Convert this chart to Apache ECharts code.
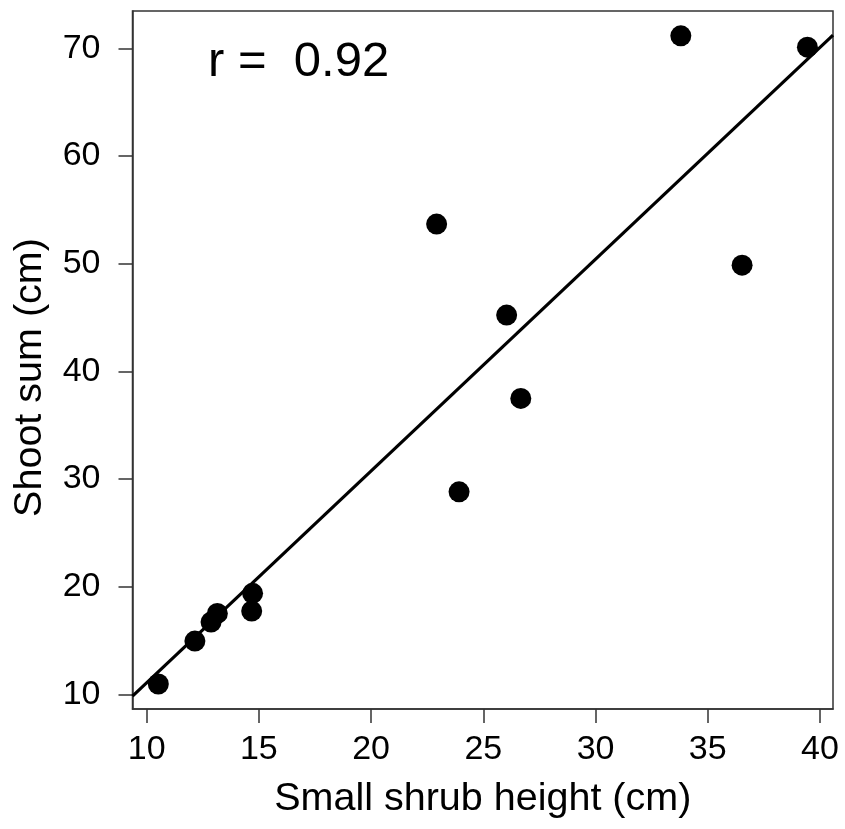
<!DOCTYPE html>
<html>
<head>
<meta charset="utf-8">
<script src="https://cdn.jsdelivr.net/npm/echarts@6/dist/echarts.min.js"></script>
<style>
html,body{margin:0;padding:0;background:#fff;}
#chart{width:845px;height:829px;}
</style>
</head>
<body>
<div id="chart"></div>
<script>
// Data
const shrubHeight = [10.52, 12.15, 12.87, 13.15, 14.72, 14.68, 22.92, 26.04, 26.67, 23.92, 33.80, 39.44, 36.53];
const shootSum    = [10.96, 14.95, 16.71, 17.52, 19.38, 17.73, 53.67, 45.22, 37.48, 28.81, 71.15, 70.10, 49.86];
const xTicks = [10, 15, 20, 25, 30, 35, 40];
const yTicks = [10, 20, 30, 40, 50, 60, 70];
const rLabel = 'r =  0.92';
const xTitle = 'Small shrub height (cm)';
const yTitle = 'Shoot sum (cm)';

// axis ranges (R-style 4% extension)
const xMin = 9.37, xMax = 40.58;
const yMin = 8.64, yMax = 73.46;

// least-squares fit through the points
const n = shrubHeight.length;
const mx = shrubHeight.reduce((a, b) => a + b, 0) / n;
const my = shootSum.reduce((a, b) => a + b, 0) / n;
let sxy = 0, sxx = 0;
for (let i = 0; i < n; i++) {
  sxy += (shrubHeight[i] - mx) * (shootSum[i] - my);
  sxx += (shrubHeight[i] - mx) * (shrubHeight[i] - mx);
}
const slope = sxy / sxx;
const intercept = my - slope * mx;
const fitLine = [[xMin, intercept + slope * xMin], [xMax, intercept + slope * xMax]];

const points = shrubHeight.map((x, i) => [x, shootSum[i]]);

const FONT = '"Liberation Sans", Arial, Helvetica, sans-serif';
const chart = echarts.init(document.getElementById('chart'), null, {renderer: 'canvas'});
chart.setOption({
  animation: false,
  backgroundColor: '#fff',
  grid: {
    left: 132.5, top: 11, right: 12, bottom: 120,
    show: true, borderColor: '#333', borderWidth: 1.5, backgroundColor: 'transparent'
  },
  xAxis: {
    type: 'value', min: xMin, max: xMax,
    name: xTitle, nameLocation: 'middle', nameGap: 70,
    nameTextStyle: {fontFamily: FONT, fontSize: 39.5, color: '#000'},
    axisLine: {show: true, lineStyle: {color: '#333', width: 1.5}},
    axisTick: {show: true, length: 14, inside: false, customValues: xTicks, lineStyle: {color: '#333', width: 1.5}},
    axisLabel: {customValues: xTicks, margin: 24, fontFamily: FONT, fontSize: 34, color: '#000'},
    splitLine: {show: false}
  },
  yAxis: {
    type: 'value', min: yMin, max: yMax,
    name: yTitle, nameLocation: 'middle', nameGap: 82, nameRotate: 90,
    nameTextStyle: {fontFamily: FONT, fontSize: 39.5, color: '#000', padding: [0, 35, 0, 0]},
    axisLine: {show: true, lineStyle: {color: '#333', width: 1.5}},
    axisTick: {show: true, length: 14, inside: false, customValues: yTicks, lineStyle: {color: '#333', width: 1.5}},
    axisLabel: {customValues: yTicks, margin: 32, fontFamily: FONT, fontSize: 34, color: '#000'},
    splitLine: {show: false}
  },
  series: [
    {
      type: 'line', data: fitLine, showSymbol: false, symbol: 'none',
      lineStyle: {color: '#000', width: 3.2}, clip: true, z: 2
    },
    {
      type: 'scatter', data: points, symbol: 'circle', symbolSize: 21,
      itemStyle: {color: '#000', opacity: 1}, z: 3
    }
  ],
  graphic: [
    {
      type: 'text', left: 208, top: 38,
      style: {text: rLabel, fontFamily: FONT, fontSize: 49, fill: '#000'}
    }
  ]
});
</script>
</body>
</html>
